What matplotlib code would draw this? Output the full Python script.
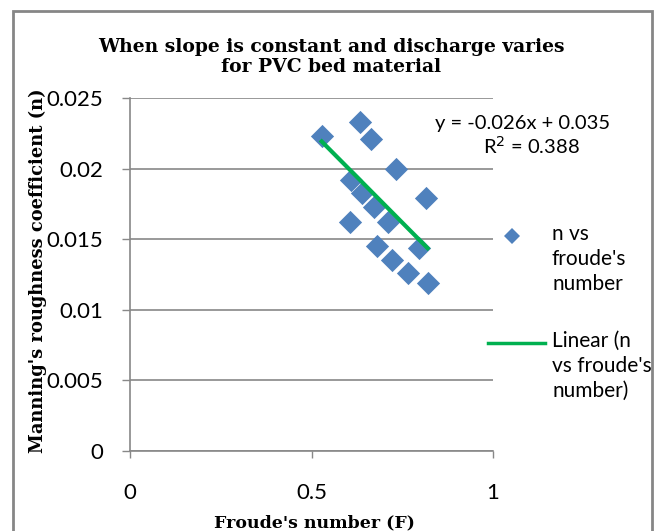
import numpy as np
import matplotlib
matplotlib.use("Agg")
import matplotlib.pyplot as plt
from matplotlib.lines import Line2D
from matplotlib.patches import Rectangle

froude = [0.528, 0.634, 0.664, 0.733, 0.608, 0.640, 0.673, 0.712, 0.606,
          0.815, 0.680, 0.797, 0.721, 0.767, 0.820]
manning_n = [0.0223, 0.0233, 0.0221, 0.0200, 0.0192, 0.0183, 0.0173, 0.0162,
             0.0162, 0.0179, 0.0145, 0.0144, 0.0135, 0.0126, 0.0119]
trend_slope = -0.0259
trend_intercept = 0.0356
x_ticks = [0, 0.5, 1]
y_ticks = [0, 0.005, 0.01, 0.015, 0.02, 0.025]
y_tick_labels = ["0", "0.005", "0.01", "0.015", "0.02", "0.025"]
x_tick_labels = ["0", "0.5", "1"]
eq_text = "y = -0.026x + 0.035"
r2_text = "R$^2$ = 0.388"

W, H = 657, 531
fig = plt.figure(figsize=(W / 100, H / 100), dpi=100)
sans = ["Lato", "DejaVu Sans"]
serif = ["DejaVu Serif"]

def fx(px):
    return px / W

def fy(py):
    return 1 - py / H

ax = fig.add_axes([fx(130), fy(451), fx(493) - fx(130), fy(98) - fy(451)])
ax.set_xlim(0, 1)
ax.set_ylim(0, 0.025)

ax.scatter(froude, manning_n, marker="D", s=140, color="#4F81BD", zorder=3,
           linewidths=0)
xf = np.array([min(froude), max(froude)])
ax.plot(xf, trend_slope * xf + trend_intercept, color="#00B050", lw=3, zorder=4)

ax.set_yticks(y_ticks)
ax.set_yticklabels(y_tick_labels, fontfamily=sans, fontsize=16)
ax.set_xticks(x_ticks)
ax.set_xticklabels(x_tick_labels, fontfamily=sans, fontsize=16)
ax.tick_params(axis="y", length=6, width=1, color="#888888", pad=13)
ax.tick_params(axis="x", length=5, width=1, color="#888888", pad=18)
for s in ["top", "right"]:
    ax.spines[s].set_visible(False)
for s in ["left", "bottom"]:
    ax.spines[s].set_color("#888888")
    ax.spines[s].set_linewidth(1.2)
ax.yaxis.grid(True, color="#888888", lw=1.2)
ax.set_axisbelow(True)

fig.text(fx(331), fy(57), "When slope is constant and discharge varies\nfor PVC bed material",
         ha="center", va="center", fontfamily=serif, fontweight="bold",
         fontsize=13.5, linespacing=1.15)
fig.text(fx(38), fy(271), "Manning's roughness coefficient (n)", rotation=90,
         ha="center", va="center", fontfamily=serif, fontweight="bold", fontsize=12.9)
fig.text(fx(314), fy(523), "Froude's number (F)", ha="center", va="center",
         fontfamily=serif, fontweight="bold", fontsize=12.5)

fig.text(fx(523), fy(123), eq_text, ha="center", va="center", fontfamily=sans, fontsize=14.5)
fig.text(fx(531), fy(146), r2_text, ha="center", va="center", fontfamily=sans, fontsize=14.5)

# legend
fig.add_artist(Line2D([fx(512)], [fy(236)], marker="D", markersize=8,
                      color="#4F81BD", markeredgewidth=0, transform=fig.transFigure))
fig.text(fx(552), fy(236 - 12), "n vs\nfroude's\nnumber", ha="left", va="top",
         fontfamily=sans, fontsize=15, linespacing=1.3)
fig.add_artist(Line2D([fx(488), fx(545)], [fy(343), fy(343)], color="#00B050", lw=2.5,
                      transform=fig.transFigure))
fig.text(fx(552), fy(343 - 12), "Linear (n\nvs froude's\nnumber)", ha="left", va="top",
         fontfamily=sans, fontsize=15, linespacing=1.3)

fig.add_artist(Rectangle((fx(13), fy(560)), fx(652) - fx(13), fy(11) - fy(560),
                         transform=fig.transFigure, fill=False, edgecolor="#868686", lw=2))

fig.savefig("out.png", dpi=100)
